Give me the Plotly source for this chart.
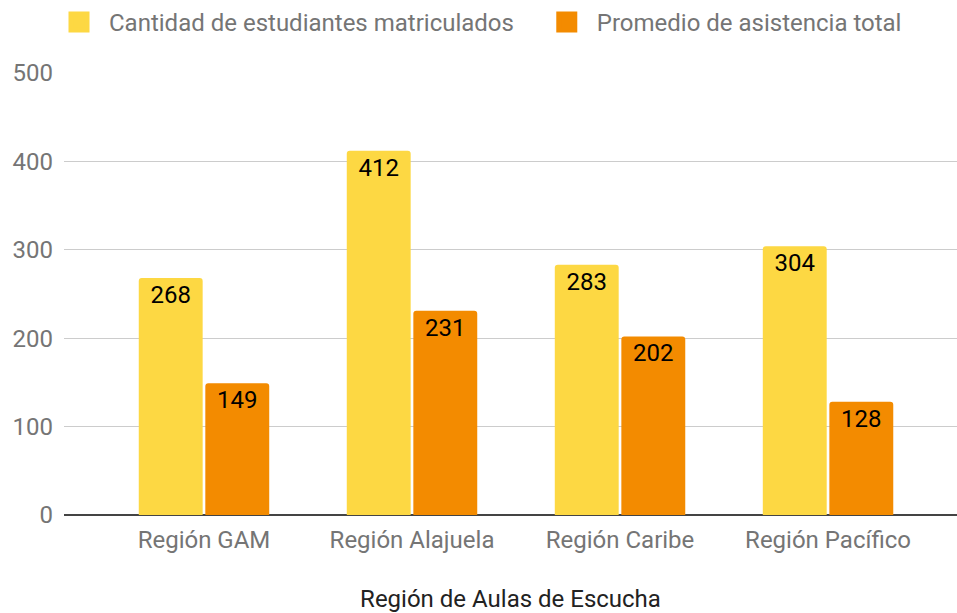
import plotly.graph_objects as go

categories = ["Región GAM", "Región Alajuela", "Región Caribe", "Región Pacífico"]
matriculados = [268, 412, 283, 304]
asistencia = [149, 231, 202, 128]
series_names = ["Cantidad de estudiantes matriculados", "Promedio de asistencia total"]
colors = ["#FDD843", "#F38B00"]
y_ticks = [0, 100, 200, 300, 400, 500]
x_title = "Región de Aulas de Escucha"

FONT = "Roboto"
GRAY = "#757575"

fig = go.Figure()
for name, vals, col in zip(series_names, [matriculados, asistencia], colors):
    fig.add_trace(go.Bar(
        x=categories, y=vals, name=name, showlegend=False,
        marker=dict(color=col, line=dict(width=0), cornerradius=3),
        text=[str(v) for v in vals], textposition="inside",
        insidetextanchor="end", textangle=0,
        textfont=dict(family=FONT, size=24, color="#000000"),
        constraintext="none", hoverinfo="skip",
    ))
# legend entries (first name padded with non-breaking spaces for spacing)
legend_labels = [series_names[0] + "\u00a0\u00a0\u00a0", series_names[1]]
for name, col in zip(legend_labels, colors):
    fig.add_trace(go.Scatter(
        x=[None], y=[None], mode="markers", name=name,
        marker=dict(symbol="square", size=18, color=col,
                    line=dict(color=col, width=5)),
    ))

fig.update_layout(
    width=957, height=613,
    margin=dict(l=64, r=0, t=73, b=98, autoexpand=False),
    paper_bgcolor="white", plot_bgcolor="white",
    barmode="group", bargap=0.36, bargroupgap=0.04,
    font=dict(family=FONT, size=24, color=GRAY),
    legend=dict(orientation="h", x=49 / 957, xref="container", xanchor="left",
                y=1.0, yref="container", yanchor="top",
                font=dict(family=FONT, size=24, color=GRAY),
                itemwidth=50,
                bgcolor="rgba(0,0,0,0)"),
    xaxis=dict(range=[-0.673, 3.62], showgrid=False, ticks="", automargin=False,
               tickfont=dict(family=FONT, size=24, color=GRAY),
               ticklabelstandoff=8,
               title=dict(text=x_title, font=dict(family=FONT, size=24, color="#222222"), standoff=38),
               showline=False, zeroline=False),
    yaxis=dict(range=[0, 500], tickvals=y_ticks, showgrid=True, gridcolor="#CCCCCC",
               gridwidth=1, zeroline=True, zerolinecolor="#444444", zerolinewidth=2,
               tickfont=dict(family=FONT, size=24, color=GRAY), automargin=False,
               ticks="", ticklabelstandoff=10, showline=False),
)

fig.write_html("out.html", config={"displayModeBar": False},
               post_script="document.body.style.margin='0';document.body.style.overflow='hidden';")
